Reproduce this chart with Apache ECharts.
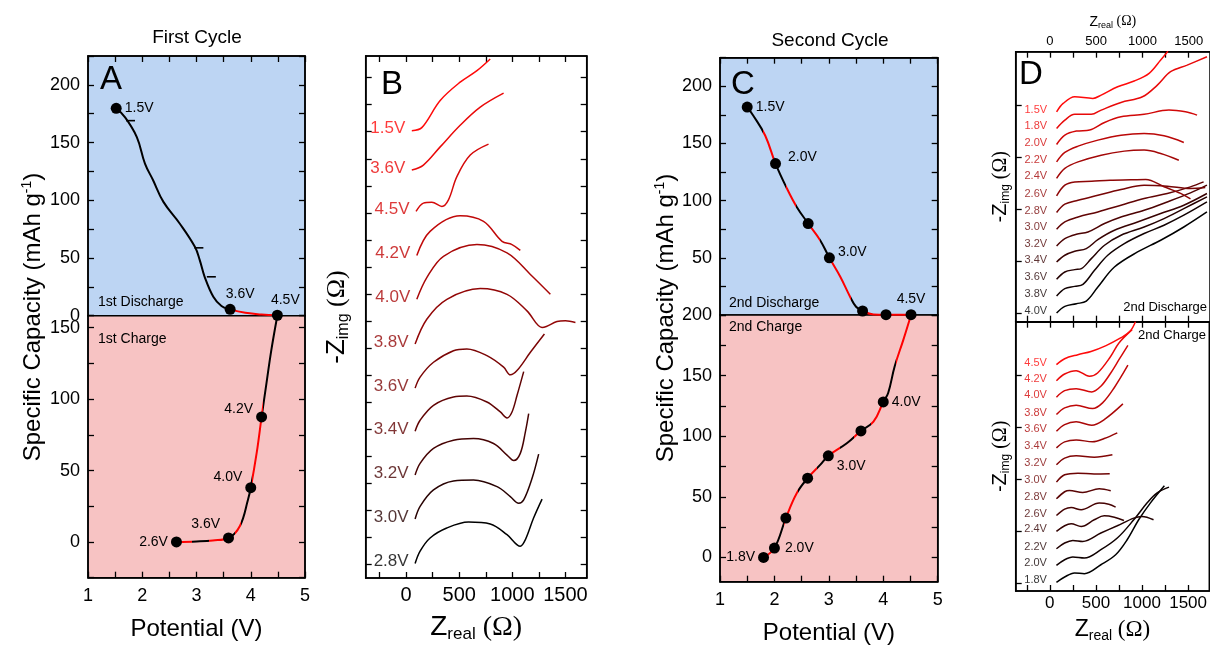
<!DOCTYPE html>
<html>
<head>
<meta charset="utf-8">
<script src="https://cdn.jsdelivr.net/npm/echarts@6/dist/echarts.min.js"></script>
<style>html,body{margin:0;background:#fff}#chart{width:1210px;height:648px}</style>
</head>
<body>
<div id="chart"></div>
<script>
// ---------- panel A : first cycle ----------
const aDischarge = [[1.52,179.7],[1.68,172.1],[1.9,154.8],[2.05,131.8],[2.2,117.4],[2.39,98.6],[2.69,79.9],[2.97,59.7],[3.06,48.2],[3.15,33.7],[3.31,16.4],[3.46,8.4],[3.62,5.5],[3.9,2.5],[4.2,1],[4.49,0.4]]
const aCharge = [[2.63,0],[3.0,0.4],[3.3,1.1],[3.59,2.8],[3.8,11.2],[3.95,29.8],[4.0,38],[4.11,62.5],[4.2,87.5],[4.29,111.2],[4.38,134.5],[4.49,158.4]]
const aDisDots = [[1.52,179.7],[3.62,5.5],[4.49,0.4]]
const aDisNames = ['1.5V','3.6V','4.5V']
const aChgDots = [[2.63,0],[3.59,2.8],[4.0,38],[4.2,87.5]]
const aChgNames = ['2.6V','3.6V','4.0V','4.2V']
const aMarks = [[1.71,169],[2.97,58.8],[3.2,33.7]]

// ---------- panel C : second cycle ----------
const cDischarge = [[1.5,181.8],[1.61,174.5],[1.83,157],[2.02,132.4],[2.23,110.6],[2.41,94.5],[2.62,80],[2.84,65.4],[3.01,50],[3.21,33.4],[3.39,16],[3.5,7.2],[3.62,3.5],[3.82,0.5],[4.05,0.2],[4.51,0.2]]
const cCharge = [[1.8,0],[2.0,7.7],[2.21,32.5],[2.41,53],[2.61,65.4],[2.84,76.4],[2.99,83.8],[3.33,94.2],[3.59,104.4],[3.82,112],[4.0,128.3],[4.09,135.7],[4.21,157.7],[4.37,179.7],[4.51,200]]
const cDisDots = [[1.5,181.8],[2.02,132.4],[2.62,80],[3.01,50],[3.62,3.5],[4.05,0.3],[4.51,0.3]]
const cDisNames = ['1.5V','2.0V','','3.0V','','','4.5V']
const cChgDots = [[1.8,0],[2.0,7.7],[2.21,32.5],[2.61,65.4],[2.99,83.8],[3.59,104.4],[4.0,128.3]]
const cChgNames = ['1.8V','2.0V','','','3.0V','','4.0V']

// potentials where the curve colour switches between black and red
const aDisBreaks = [3.61]
const aChgBreaks = [2.95, 3.25, 3.6, 3.7, 3.8, 4.0, 4.2]
const cDisBreaks = [1.83, 2.02, 2.23, 2.41, 2.62, 2.84, 3.01, 3.4, 3.62]
const cChgBreaks = [2.0, 2.21, 2.45, 2.61, 2.8, 2.99, 3.2, 3.45, 3.6, 3.75, 4.0, 4.2]

// ---------- panel B : impedance, first cycle (bottom to top) ----------
const bNames = ['2.8V','3.0V','3.2V','3.4V','3.6V','3.8V','4.0V','4.2V','4.5V','3.6V','1.5V']
const bCurves = [
  [[85,9],[132,123],[226,245],[383,337],[588,392],[792,374],[950,276],[1075,169],[1123,230],[1200,429],[1280,604]],
  [[85,20],[132,137],[258,289],[446,372],[635,381],[856,320],[981,228],[1060,167],[1107,197],[1186,397],[1248,620]],
  [[85,27],[132,135],[258,273],[446,349],[635,364],[823,318],[950,211],[1013,160],[1075,227],[1123,426],[1154,594]],
  [[85,32],[132,133],[258,271],[446,348],[572,357],[761,302],[887,210],[950,155],[997,210],[1044,362],[1107,583]],
  [[85,30],[132,132],[258,269],[446,376],[572,392],[761,330],[918,224],[981,153],[1044,192],[1170,361],[1302,530]],
  [[85,38],[195,267],[384,451],[698,550],[950,497],[1138,344],[1280,191],[1320,200],[1420,245],[1500,252],[1594,237]],
  [[101,51],[195,251],[352,449],[667,557],[950,480],[1170,281],[1358,98]],
  [[101,56],[226,279],[509,423],[729,371],[903,187],[997,157],[1075,104]],
  [[94,63],[163,140],[242,149],[337,109],[399,170],[478,385],[604,584],[776,685]],
  [[54,46],[163,92],[321,260],[509,460],[698,628],[918,757]],
  [[54,10],[148,38],[321,289],[509,458],[667,565],[792,673]]
]
const bStep = 400

// ---------- panel D : impedance, second cycle (bottom to top) ----------
const dDisNames = ['4.0V','3.8V','3.6V','3.4V','3.2V','3.0V','2.8V','2.6V','2.4V','2.2V','2.0V','1.8V','1.5V']
const dDisCurves = [
  [[72,48],[161,127],[286,159],[393,190],[518,357],[697,595],[947,774],[1197,913],[1447,1071],[1697,1250]],
  [[72,50],[161,138],[268,165],[357,189],[482,356],[625,535],[804,673],[1018,793],[1233,892],[1447,1011],[1697,1169]],
  [[72,49],[161,136],[268,164],[340,176],[447,295],[590,454],[768,573],[1018,671],[1233,771],[1447,890],[1697,1029]],
  [[72,55],[161,135],[268,182],[393,214],[518,321],[697,432],[947,531],[1197,631],[1447,730],[1697,869]],
  [[72,45],[161,133],[286,185],[411,212],[590,312],[768,390],[1018,470],[1268,569],[1519,676],[1697,768]],
  [[72,44],[161,131],[304,190],[518,250],[768,330],[1018,410],[1268,469],[1519,548],[1661,607]],
  [[72,43],[161,142],[304,189],[518,249],[768,317],[1018,368],[1268,356],[1519,329],[1679,340]],
  [[72,40],[161,168],[268,207],[450,215],[650,228],[875,232],[1036,236],[1233,150],[1412,70],[1519,5]],
  [[72,48],[161,167],[304,245],[554,325],[804,373],[1018,385],[1197,345],[1393,265]],
  [[72,45],[161,157],[304,232],[518,304],[768,363],[1018,383],[1233,355],[1447,276]],
  [[72,52],[161,163],[286,211],[429,223],[590,314],[768,381],[1018,410],[1286,461],[1465,440],[1590,401]],
  [[72,43],[161,142],[268,210],[447,210],[554,261],[768,352],[1000,419],[1161,558],[1304,717],[1483,796],[1697,895]],
  [[72,40],[143,140],[268,219],[464,200],[554,239],[732,338],[911,406],[1072,498],[1197,656],[1275,760]]
]
const dChgNames = ['1.8V','2.0V','2.2V','2.4V','2.6V','2.8V','3.0V','3.2V','3.4V','3.6V','3.8V','4.0V','4.2V','4.5V']
const dChgCurves = [
  [[72,48],[161,112],[268,160],[375,151],[554,258],[714,377],[839,556],[964,794],[1090,993],[1243,1199]],
  [[72,50],[161,118],[250,150],[375,138],[554,237],[732,376],[911,594],[1054,793],[1161,912],[1293,983]],
  [[72,49],[161,117],[250,148],[357,136],[554,236],[732,323],[911,414],[1000,433],[1125,394]],
  [[72,55],[161,123],[232,146],[340,114],[482,194],[590,242],[700,225],[804,186]],
  [[72,45],[161,121],[232,140],[340,113],[536,193],[640,180],[714,145]],
  [[72,44],[161,128],[214,143],[357,119],[536,163],[661,139]],
  [[72,43],[161,130],[304,150],[480,140],[650,142]],
  [[72,49],[161,129],[286,156],[482,140],[679,168]],
  [[72,51],[161,123],[286,146],[464,123],[590,162],[732,230]],
  [[72,50],[161,129],[286,161],[454,121],[590,188],[793,375]],
  [[72,48],[161,127],[286,160],[464,119],[572,187],[697,365],[847,636]],
  [[72,55],[161,133],[286,157],[454,118],[554,186],[661,344],[750,502],[847,674]],
  [[72,52],[161,132],[286,171],[429,105],[518,144],[661,343],[750,501],[893,660]],
  [[72,43],[161,114],[304,162],[447,200],[610,270],[768,361],[870,440],[929,555]]
]
const dStep = 200

const zLabels = [0, 500, 1000, 1500]
const zTicks = [-250, 0, 250, 500, 750, 1000, 1250, 1500]
const dTicksY = [40, 660, 1280, 1900, 2520]

// ---------- helpers ----------
const FONT = 'Liberation Sans'
const RED = '#ff0000'
const tick = () => ({ show: true, inside: true, length: 6, lineStyle: { color: '#000', width: 1.3 } })
const tickAt = vals => Object.assign(tick(), { customValues: vals })

function axis(o) {
  return Object.assign({
    type: 'value', splitLine: { show: false },
    axisLine: { show: true, onZero: false, lineStyle: { color: '#000', width: 1.5 } },
    axisTick: tick(), axisLabel: { show: false }
  }, o)
}
function lbl(o) {
  return Object.assign({ show: true, color: '#000', fontFamily: FONT, formatter: v => String(v) }, o)
}
function every(step, from, to) {
  const r = []
  for (let v = from; v <= to + 1e-9; v += step) r.push(v)
  return r
}
function shade(t, gamma) {
  const r = Math.round(255 * Math.pow(t, gamma))
  return 'rgb(' + r + ',' + Math.round(r * 0.04) + ',' + Math.round(r * 0.04) + ')'
}
// hard-stop horizontal gradient: black / red alternating at the given x breaks
function stripes(data, breaks, firstRed) {
  const x0 = data[0][0], x1 = data[data.length - 1][0]
  const cols = firstRed ? [RED, '#000'] : ['#000', RED]
  const stops = [{ offset: 0, color: cols[0] }]
  breaks.forEach((b, i) => {
    const o = (b - x0) / (x1 - x0)
    stops.push({ offset: o, color: cols[i % 2] })
    stops.push({ offset: o, color: cols[(i + 1) % 2] })
  })
  stops.push({ offset: 1, color: cols[breaks.length % 2] })
  return new echarts.graphic.LinearGradient(0, 0, 1, 0, stops)
}
function dots(pts, names, pos, xi, yi) {
  return {
    type: 'scatter', xAxisIndex: xi, yAxisIndex: yi, symbolSize: 11, itemStyle: { color: '#000', opacity: 1 },
    silent: true, z: 5,
    data: pts.map((p, i) => ({
      value: p, name: names[i],
      label: { show: !!names[i], formatter: '{b}', position: pos[i][0], offset: pos[i][1], distance: 3,
        fontSize: 14, color: '#000', fontFamily: FONT }
    }))
  }
}
function curve(p, off, color, xi, yi) {
  return {
    type: 'line', xAxisIndex: xi, yAxisIndex: yi, smooth: 0.35, showSymbol: false, silent: true,
    lineStyle: { color: color, width: 1.5 }, data: p.map(q => [q[0], q[1] + off])
  }
}
function cycleLine(data, breaks, firstRed, xi, yi) {
  return { type: 'line', xAxisIndex: xi, yAxisIndex: yi, data: data, smooth: 0.4,
    showSymbol: false, silent: true, lineStyle: { width: 2, color: stripes(data, breaks, firstRed) } }
}
function startLabels(curves, names, step, colors, xi, yi, fs, dist) {
  return {
    type: 'scatter', xAxisIndex: xi, yAxisIndex: yi, symbolSize: 1, silent: true,
    itemStyle: { color: 'rgba(0,0,0,0)' },
    data: curves.map((c, i) => ({
      value: [c[0][0], c[0][1] + i * step], name: names[i],
      label: { show: true, formatter: '{b}', position: 'left', distance: dist, offset: [0, -2],
        fontSize: fs, color: colors[i], fontFamily: FONT }
    }))
  }
}

const bColors = bNames.map((n, i) => shade(i / (bNames.length - 1), 0.8))
const dDisColors = dDisNames.map((n, i) => shade(i / (dDisNames.length - 1), 1.1))
const dChgColors = dChgNames.map((n, i) => shade(i / (dChgNames.length - 1), 1.1))

const zName = (fs, sub) => ({
  fontSize: fs, color: '#000', fontFamily: FONT,
  rich: {
    s: { fontSize: sub, fontFamily: FONT, padding: [Math.round(fs * 0.5), 0, 0, 0] },
    o: { fontSize: fs, fontFamily: 'Liberation Serif' }
  }
})

const chart = echarts.init(document.getElementById('chart'), null, { renderer: 'canvas' })

const grid = [
  { left: 88, top: 56, width: 217, height: 259.7, show: true, backgroundColor: '#bdd5f3', borderColor: '#000', borderWidth: 1.5 },
  { left: 88, top: 315.7, width: 217, height: 262, show: true, backgroundColor: '#f7c3c3', borderColor: '#000', borderWidth: 1.5 },
  { left: 365.7, top: 56, width: 221, height: 523.3, show: true, borderColor: '#000', borderWidth: 1.5 },
  { left: 720, top: 57.7, width: 217.7, height: 257.3, show: true, backgroundColor: '#bdd5f3', borderColor: '#000', borderWidth: 1.5 },
  { left: 720, top: 315, width: 217.7, height: 266.7, show: true, backgroundColor: '#f7c3c3', borderColor: '#000', borderWidth: 1.5 },
  { left: 1015.7, top: 51.7, width: 197, height: 270, show: true, borderColor: '#000', borderWidth: 1.5 },
  { left: 1015.7, top: 321.7, width: 197, height: 269.3, show: true, borderColor: '#000', borderWidth: 1.5 }
]

const potLabel = () => lbl({ fontSize: 18, margin: 9, formatter: v => Number.isInteger(v) ? String(v) : '' })
const potName = () => ({ name: 'Potential (V)', nameLocation: 'middle', nameGap: 40, nameTextStyle: { fontSize: 24, color: '#000', fontFamily: FONT } })

// 0 A top, 1 A bottom, 2 B bottom, 3 B top, 4 C top, 5 C bottom, 6 D1 top, 7 D1 bottom, 8 D2 top, 9 D2 bottom
const xAxis = [
  axis({ gridIndex: 0, position: 'top', min: 1, max: 5, interval: 0.5 }),
  axis(Object.assign({ gridIndex: 1, position: 'bottom', min: 1, max: 5, interval: 0.5, axisLabel: potLabel() }, potName())),
  axis({ gridIndex: 2, position: 'bottom', min: -380, max: 1700, axisTick: tickAt(zTicks),
    axisLabel: lbl({ fontSize: 20, margin: 7, customValues: zLabels }),
    name: '{a|Z}{s|real}{o| (Ω)}', nameLocation: 'middle', nameGap: 34, nameTextStyle: zName(28, 17) }),
  axis({ gridIndex: 2, position: 'top', min: -380, max: 1700, axisTick: tickAt(zTicks) }),
  axis({ gridIndex: 3, position: 'top', min: 1, max: 5, interval: 0.5 }),
  axis(Object.assign({ gridIndex: 4, position: 'bottom', min: 1, max: 5, interval: 0.5, axisLabel: potLabel() }, potName())),
  axis({ gridIndex: 5, position: 'top', min: -370, max: 1730, axisTick: tickAt(zTicks),
    axisLabel: lbl({ fontSize: 13, margin: 4, customValues: zLabels }),
    name: '{a|Z}{s|real}{o| (Ω)}', nameLocation: 'middle', nameGap: 22, nameTextStyle: zName(14, 9) }),
  axis({ gridIndex: 5, position: 'bottom', min: -370, max: 1730, axisTick: tickAt(zTicks) }),
  axis({ gridIndex: 6, position: 'top', min: -370, max: 1730, axisTick: tickAt(zTicks) }),
  axis({ gridIndex: 6, position: 'bottom', min: -370, max: 1730, axisTick: tickAt(zTicks),
    axisLabel: lbl({ fontSize: 17, margin: 4, customValues: zLabels }),
    name: '{a|Z}{s|real}{o| (Ω)}', nameLocation: 'middle', nameGap: 26, nameTextStyle: zName(23, 14) })
]

const capLabel = (skipZero) => lbl({ fontSize: 18, margin: 8, formatter: v => (v % 50 === 0 && v >= 0 && !(skipZero && v === 0)) ? String(v) : '' })
const imgName = (fs, sub, gap) => ({ name: '-Z{s|img}{o| (Ω)}', nameLocation: 'middle', nameRotate: 90, nameGap: gap,
  nameTextStyle: { fontSize: fs, color: '#000', fontFamily: FONT,
    rich: { s: { fontSize: sub, fontFamily: FONT, padding: [Math.round(fs * 0.5), 0, 0, 0] }, o: { fontSize: fs, fontFamily: 'Liberation Serif' } } } })

// 0-1 A top, 2-3 A bottom, 4-5 B, 6-7 C top, 8-9 C bottom, 10 D1, 11 D2
const yAxis = [
  axis({ gridIndex: 0, position: 'left', min: 0, max: 225, interval: 25, axisLabel: capLabel(false) }),
  axis({ gridIndex: 0, position: 'right', min: 0, max: 225, interval: 25 }),
  axis({ gridIndex: 1, position: 'left', min: -25, max: 158.4, interval: 25, axisLabel: capLabel(false) }),
  axis({ gridIndex: 1, position: 'right', min: -25, max: 158.4, interval: 25 }),
  axis(Object.assign({ gridIndex: 2, position: 'left', min: -125, max: 4700, axisTick: tickAt(every(250, 0, 4500)) }, imgName(26, 16, 14))),
  axis({ gridIndex: 2, position: 'right', min: -125, max: 4700, axisTick: tickAt(every(250, 0, 4500)) }),
  axis({ gridIndex: 3, position: 'left', min: 0, max: 225, interval: 25, axisLabel: capLabel(true) }),
  axis({ gridIndex: 3, position: 'right', min: 0, max: 225, interval: 25 }),
  axis({ gridIndex: 4, position: 'left', min: -20, max: 200, axisTick: tickAt(every(25, 0, 200)),
    axisLabel: lbl({ fontSize: 18, margin: 8, customValues: every(50, 0, 200) }) }),
  axis({ gridIndex: 4, position: 'right', min: -20, max: 200, axisTick: tickAt(every(25, 0, 200)) }),
  axis(Object.assign({ gridIndex: 5, position: 'left', min: -55, max: 3155, axisTick: tickAt(dTicksY) }, imgName(20, 12, 4))),
  axis(Object.assign({ gridIndex: 6, position: 'left', min: -55, max: 3155, axisTick: tickAt(dTicksY) }, imgName(20, 12, 4)))
]

const series = [
  cycleLine(aDischarge, aDisBreaks, false, 0, 0),
  cycleLine(aCharge, aChgBreaks, true, 1, 2),
  dots(aDisDots, aDisNames, [['right', [0, 0]], ['top', [10, 0]], ['top', [8, 0]]], 0, 0),
  dots(aChgDots, aChgNames, [['left', [0, 0]], ['left', [0, -14]], ['left', [0, -11]], ['left', [0, -8]]], 1, 2),
  { type: 'scatter', xAxisIndex: 0, yAxisIndex: 0, data: aMarks, symbol: 'rect', symbolSize: [9, 1.6], symbolOffset: [4, 0], itemStyle: { color: '#000', opacity: 1 }, silent: true },
  cycleLine(cDischarge, cDisBreaks, false, 4, 6),
  cycleLine(cCharge, cChgBreaks, true, 5, 8),
  dots(cDisDots, cDisNames, [['right', [0, 0]], ['right', [4, -6]], ['right', [0, 0]], ['right', [0, -6]], ['top', [0, 0]], ['top', [0, 0]], ['top', [0, 0]]], 4, 6),
  dots(cChgDots, cChgNames, [['left', [0, 0]], ['right', [2, 0]], ['right', [0, 0]], ['right', [0, 0]], ['right', [0, 10]], ['right', [0, 0]], ['right', [0, 0]]], 5, 8)
]
bCurves.forEach((c, i) => series.push(curve(c, i * bStep, bColors[i], 2, 4)))
series.push(startLabels(bCurves, bNames, bStep, bColors, 2, 4, 17, 6))
dDisCurves.forEach((c, i) => series.push(curve(c, i * dStep, dDisColors[i], 6, 10)))
series.push(startLabels(dDisCurves, dDisNames, dStep, dDisColors, 6, 10, 11, 9))
dChgCurves.forEach((c, i) => series.push(curve(c, i * dStep, dChgColors[i], 9, 11)))
series.push(startLabels(dChgCurves, dChgNames, dStep, dChgColors, 9, 11, 11, 9))

const txt = (x, y, text, size, extra) => ({
  type: 'text', x: x, y: y, silent: true, z: 100,
  style: Object.assign({ text: text, fontSize: size, fontFamily: FONT, fill: '#000', textAlign: 'center', textVerticalAlign: 'middle' }, extra || {})
})
const supRich = () => ({ rich: { sup: { fontSize: 14, fontFamily: FONT, padding: [0, 0, 12, 0] } } })

const graphic = [
  txt(197, 38, 'First Cycle', 19),
  txt(830, 41, 'Second Cycle', 19),
  txt(111, 80, 'A', 33),
  txt(392, 85, 'B', 33),
  txt(743, 85, 'C', 33),
  txt(1031, 75, 'D', 33),
  txt(98, 302, '1st Discharge', 14, { textAlign: 'left' }),
  txt(98, 339, '1st Charge', 14, { textAlign: 'left' }),
  txt(729, 303, '2nd Discharge', 14, { textAlign: 'left' }),
  txt(729, 327, '2nd Charge', 14, { textAlign: 'left' }),
  txt(1207, 307, '2nd Discharge', 13, { textAlign: 'right' }),
  txt(1206, 335, '2nd Charge', 13, { textAlign: 'right' }),
  Object.assign(txt(33, 317, 'Specific Capacity (mAh g{sup|-1})', 24, supRich()), { rotation: Math.PI / 2 }),
  Object.assign(txt(666, 318, 'Specific Capacity (mAh g{sup|-1})', 24, supRich()), { rotation: Math.PI / 2 })
]

chart.setOption({
  animation: false,
  backgroundColor: '#fff',
  textStyle: { fontFamily: FONT },
  grid: grid,
  xAxis: xAxis,
  yAxis: yAxis,
  series: series,
  graphic: graphic
})
</script>
</body>
</html>
